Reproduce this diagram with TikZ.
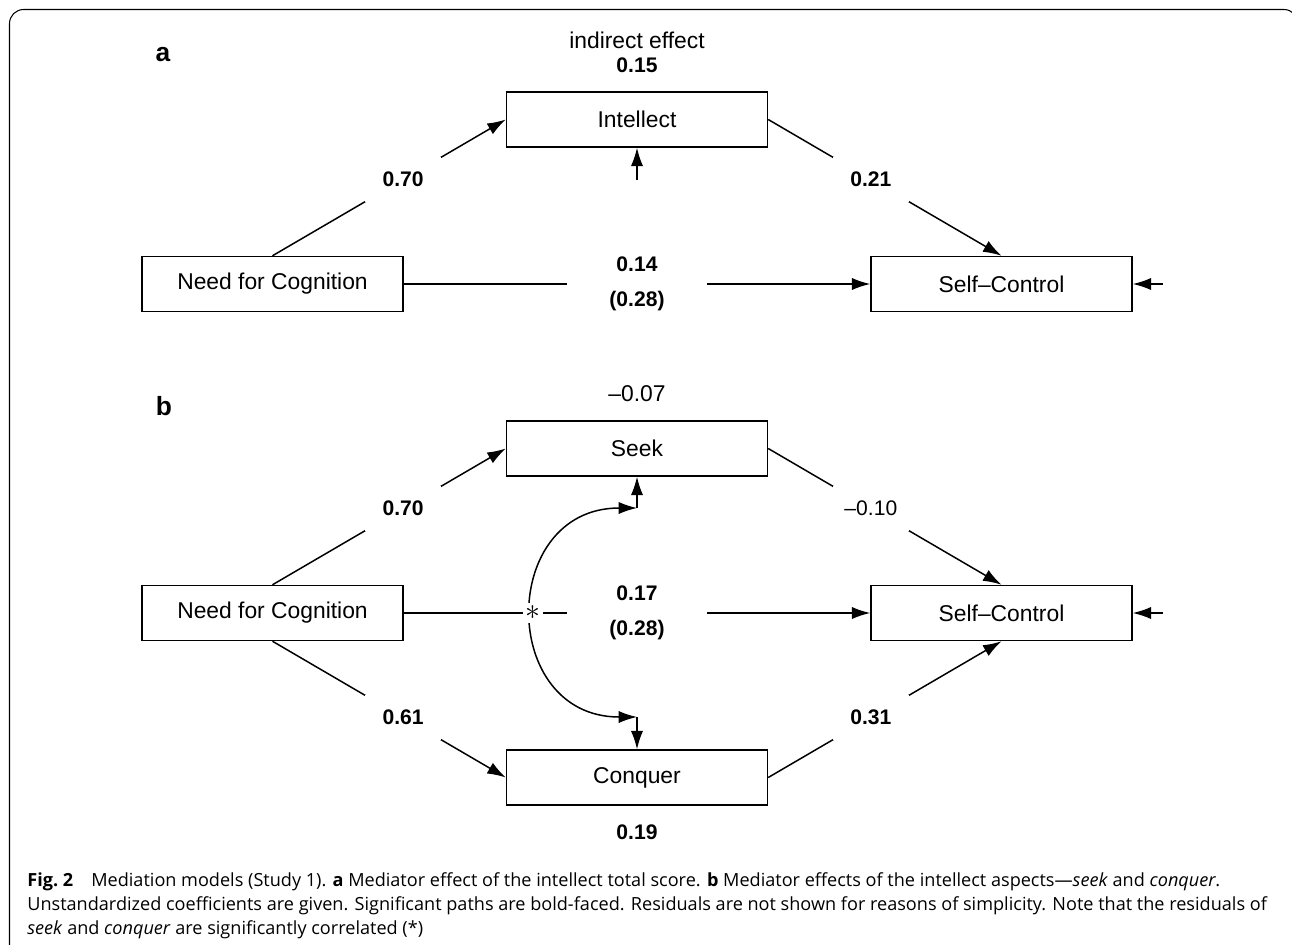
\documentclass[tikz,border=0pt]{standalone}
\usepackage{fontspec}
\setmainfont{Liberation Sans}
\newfontfamily\capfont{Open Sans}
\usetikzlibrary{arrows.meta}

\begin{document}
\begin{tikzpicture}[x=0.02cm, y=-0.02cm,
    var/.style={draw, line width=0.85pt, minimum width=5.22cm, minimum height=1.1cm,
      inner sep=0pt, font=\fontsize{13}{15}\selectfont},
    effect/.style={line width=0.85pt, -{Latex[length=10.5pt,width=7pt]}},
    resid/.style={line width=0.85pt, -{Latex[length=10.5pt,width=7pt]}},
    coef/.style={fill=white, inner sep=0pt, minimum width=1.53cm, minimum height=0.9cm,
      font=\fontsize{12}{15}\selectfont\bfseries},
    coefwide/.style={fill=white, inner sep=0pt, minimum width=2.8cm, align=center,
      font=\fontsize{12}{20}\selectfont\bfseries},
    num/.style={inner sep=0pt, font=\fontsize{12}{15}\selectfont\bfseries},
    note/.style={inner sep=0pt, font=\fontsize{13}{15}\selectfont},
    panel/.style={inner sep=0pt, font=\fontsize{15}{18}\selectfont\bfseries},
    capline/.style={anchor=base west, inner sep=0pt, font=\capfont\fontsize{10.3}{13}\selectfont}]
    \useasboundingbox (0,0) rectangle (1292,944);

    % Frame round figure and caption
    \draw[line width=0.6pt, rounded corners=8pt] (9.5,960) -- (9.5,9.5) -- (1298,9.5) -- (1298,960);

    % Panel a: total score as mediator
    \node[panel] (taga) at (163,55) {a};
    \node[note] (indir) at (637,40) {indirect effect};
    \node[num] (indira) at (637,65) {0.15};
    \node[var] (int) at (637,119.5) {Intellect};
    \node[var] (nfca) at (272.5,284) {Need for Cognition};
    \node[var] (sca) at (1001.5,284) {Self–Control};

    \draw[effect] (nfca.north) -- node[coef, pos=0.56] (ca1) {0.70} (int.west);
    \draw[effect] (int.east) -- node[coef, pos=0.44] (ca2) {0.21} (sca.north);
    \draw[effect] (nfca) -- node[coefwide] (ca3) {0.14\\(0.28)} (sca);

    % Residuals in a
    \coordinate (rint) at (637,180);
    \coordinate (rsca) at (1163,284);
    \draw[resid] (rint) -- (int);
    \draw[resid] (rsca) -- (sca);

    % Panel b: seek and conquer as mediators
    \node[panel] (tagb) at (164,406) {b};
    \node[note] (indirs) at (637,394) {–0.07};
    \node[var] (seek) at (637,448.5) {Seek};
    \node[var] (nfcb) at (272.5,613) {Need for Cognition};
    \node[var] (scb) at (1001.5,613) {Self–Control};
    \node[var] (conq) at (637,777.5) {Conquer};
    \node[num] (indirc) at (637,832) {0.19};

    \draw[effect] (nfcb.north) -- node[coef, pos=0.56] (cb1) {0.70} (seek.west);
    \draw[effect] (nfcb.south) -- node[coef, pos=0.56] (cb2) {0.61} (conq.west);
    \draw[effect] (seek.east) -- node[coef, pos=0.44, font=\fontsize{12}{15}\selectfont] (cb3) {–0.10} (scb.north);
    \draw[effect] (conq.east) -- node[coef, pos=0.44] (cb4) {0.31} (scb.south);
    \draw[effect] (nfcb) -- node[coefwide] (cb5) {0.17\\(0.28)} (scb);

    % Residuals in b, seek and conquer correlated
    \coordinate (rseek) at (637,508);
    \coordinate (rconq) at (637,717);
    \coordinate (rscb) at (1163,613);
    \draw[resid] (rseek) -- (seek);
    \draw[resid] (rconq) -- (conq);
    \draw[resid] (rscb) -- (scb);
    \draw[line width=0.85pt, {Latex[length=10.5pt,width=7pt]}-{Latex[length=10.5pt,width=7pt]}]
      (rseek) to[out=180, in=180, looseness=1.7] (rconq);
    \node[fill=white, inner sep=1.5pt] (corr) at (533,613) {\scalebox{1.7}{$\ast$}};

    % Caption
    \node[capline] (cap1) at (27,886) {\textbf{Fig.~2}\quad Mediation models (Study 1). \textbf{a} Mediator effect of the intellect total score. \textbf{b} Mediator effects of the intellect aspects—\textit{seek} and \textit{conquer}.};
    \node[capline] (cap2) at (27,910) {Unstandardized coefficients are given. Significant paths are bold-faced. Residuals are not shown for reasons of simplicity. Note that the residuals of};
    \node[capline] (cap3) at (27,934) {\textit{seek} and \textit{conquer} are significantly correlated (*)};
\end{tikzpicture}
\end{document}
